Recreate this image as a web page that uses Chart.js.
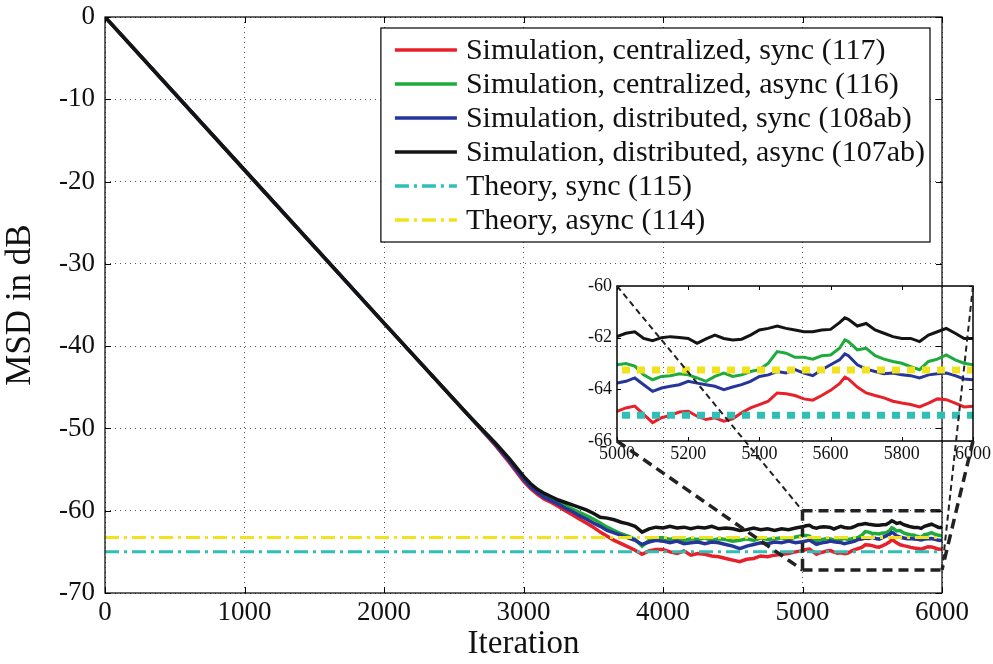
<!DOCTYPE html>
<html>
<head>
<meta charset="utf-8">
<script src="https://cdn.jsdelivr.net/npm/chart.js@4.4.1/dist/chart.umd.min.js"></script>
<style>
  html, body { margin: 0; padding: 0; background: #fff; }
  #wrap { position: relative; width: 993px; height: 664px; }
  canvas { position: absolute; left: 0; top: 0; }
</style>
</head>
<body>
<div id="wrap">
  <canvas id="mainChart" width="993" height="664"></canvas>
  <canvas id="insetChart" width="993" height="664"></canvas>
</div>
<script>
// Iteration index of each sample
const iterations = [0, 1000, 2000, 2600, 2800, 2900,
  3000, 3050, 3100, 3150, 3200, 3250, 3300, 3350, 3400, 3450,
  3500, 3550, 3600, 3650, 3700, 3750, 3800, 3850, 3900, 3950,
  4000, 4050, 4100, 4150, 4200, 4250, 4300, 4350, 4400, 4450,
  4500, 4550, 4600, 4650, 4700, 4750, 4800, 4850, 4900, 4950,
  5000, 5025, 5050, 5075, 5100, 5125, 5150, 5175, 5200, 5225,
  5250, 5275, 5300, 5325, 5350, 5375, 5400, 5425, 5450, 5475,
  5500, 5525, 5550, 5575, 5600, 5625, 5640, 5650, 5675, 5700,
  5725, 5750, 5775, 5800, 5825, 5850, 5875, 5900, 5925, 5950,
  5975, 6000];

// MSD in dB
const centralSync = [0, -18.6, -37.2, -48.3, -52.1, -54.2,
  -56.4, -57.3, -58.0, -58.6, -59.0, -59.5, -60.0, -60.5, -61.0, -61.5,
  -62.0, -62.6, -63.1, -63.6, -64.0, -64.4, -64.8, -65.3, -64.9, -64.7,
  -64.7, -65.0, -65.2, -64.9, -65.4, -65.2, -65.3, -65.5, -65.6, -65.8,
  -66.0, -66.2, -65.9, -65.8, -65.5, -65.6, -65.4, -65.3, -65.2, -65.0,
  -64.85, -64.72, -64.65, -64.97, -65.29, -65.1, -65.01, -64.88, -64.85, -65.04,
  -65.17, -65.1, -65.23, -65.14, -64.91, -64.72, -64.59, -64.46, -64.14, -64.17,
  -64.24, -64.37, -64.42, -64.24, -64.04, -63.78, -63.53, -63.6, -63.91, -64.14,
  -64.24, -64.33, -64.46, -64.53, -64.59, -64.68, -64.53, -64.37, -64.4, -64.53,
  -64.68, -64.65];

const centralAsync = [0, -18.6, -37.2, -48.3, -51.9, -53.9,
  -56.1, -56.9, -57.6, -58.2, -58.6, -59.0, -59.4, -59.8, -60.2, -60.6,
  -61.0, -61.5, -62.0, -62.4, -62.8, -63.1, -63.5, -64.3, -63.6, -63.3,
  -63.3, -63.5, -63.3, -63.6, -63.4, -63.5, -63.3, -63.6, -63.4, -63.5,
  -63.7, -63.6, -63.4, -63.6, -63.3, -63.5, -63.4, -63.3, -63.5, -63.2,
  -63.05, -63.0, -63.1, -63.44, -63.63, -63.5, -63.47, -63.4, -63.44, -63.56,
  -63.69, -63.5, -63.37, -63.5, -63.44, -63.31, -63.24, -62.99, -62.54, -62.6,
  -62.76, -62.76, -62.83, -62.7, -62.67, -62.41, -62.09, -62.15, -62.47, -62.41,
  -62.7, -62.83, -62.92, -62.99, -63.12, -63.24, -62.92, -62.83, -62.67, -62.86,
  -62.99, -63.05];

const distSync = [0, -18.6, -37.2, -48.3, -52.0, -54.0,
  -56.2, -57.1, -57.8, -58.4, -58.8, -59.2, -59.7, -60.1, -60.6, -61.0,
  -61.5, -61.9, -62.4, -62.7, -63.0, -63.3, -63.6, -64.1, -63.8, -63.6,
  -63.7, -63.9, -63.7, -64.0, -63.9, -63.8, -64.0, -63.8, -63.9, -64.1,
  -64.3, -64.6, -64.3, -64.1, -63.9, -64.0, -63.8, -63.9, -63.7, -63.9,
  -63.76, -63.69, -63.56, -63.82, -64.08, -63.95, -63.88, -63.82, -63.69, -63.76,
  -63.82, -63.88, -64.01, -63.91, -63.82, -63.69, -63.5, -63.44, -63.31, -63.37,
  -63.24, -63.37, -63.47, -63.24, -63.05, -62.86, -62.63, -62.7, -63.05, -63.22,
  -63.31, -63.4, -63.37, -63.44, -63.47, -63.56, -63.44, -63.4, -63.37, -63.47,
  -63.6, -63.63];

const distAsync = [0, -18.6, -37.2, -48.3, -51.8, -53.7,
  -55.8, -56.7, -57.4, -57.9, -58.3, -58.7, -59.0, -59.3, -59.6, -59.9,
  -60.3, -60.8, -60.9, -61.1, -61.4, -61.6, -61.9, -62.6, -62.2, -62.0,
  -62.1, -61.9, -62.1, -62.0, -62.2, -62.0, -62.1, -61.9, -62.2, -62.1,
  -62.2, -62.4, -62.3, -62.1, -62.3, -62.2, -62.4, -62.2, -62.3, -62.1,
  -61.96, -61.83, -61.77, -62.03, -62.12, -62.0, -61.96, -61.99, -62.03, -62.22,
  -62.05, -61.9, -62.03, -62.09, -62.06, -61.9, -61.7, -61.64, -61.55, -61.64,
  -61.7, -61.77, -61.77, -61.7, -61.68, -61.42, -61.23, -61.29, -61.55, -61.45,
  -61.7, -61.83, -61.96, -62.03, -62.03, -62.15, -61.9, -61.77, -61.64, -61.83,
  -62.03, -62.03];

// Theoretical steady-state levels
const theoryIters = [0, 6000];
const theorySync = [-65.0, -65.0];
const theoryAsync = [-63.25, -63.25];

// Zoomed region shown in the inset
const zoomX = [5000, 6000];
const zoomY = [-60, -67.2];
const insetY = [-66, -60];

const labels = [
  'Simulation, centralized, sync (117)',
  'Simulation, centralized, async (116)',
  'Simulation, distributed, sync (108ab)',
  'Simulation, distributed, async (107ab)',
  'Theory, sync (115)',
  'Theory, async (114)'
];
const colors = ['#e8202a', '#1faa3c', '#26359a', '#141414', '#2fbfb5', '#f2e21e'];

const serif = '"Liberation Serif", "Times New Roman", serif';

function pts(xs, ys) {
  return xs.map((x, i) => ({ x: x, y: ys[i] }));
}

function makeDatasets(lw, theoryDash, theoryWidth) {
  const sims = [centralSync, centralAsync, distSync, distAsync];
  const ds = sims.map((s, i) => ({
    label: labels[i],
    data: pts(iterations, s),
    borderColor: colors[i],
    borderWidth: lw,
    pointRadius: 0,
    fill: false,
    order: 4 - i
  }));
  ds.push({ label: labels[4], data: pts(theoryIters, theorySync), borderColor: colors[4],
    borderWidth: theoryWidth, borderDash: theoryDash, pointRadius: 0, order: 0 });
  ds.push({ label: labels[5], data: pts(theoryIters, theoryAsync), borderColor: colors[5],
    borderWidth: theoryWidth, borderDash: theoryDash, pointRadius: 0, order: 0 });
  return ds;
}

// no thousands separator on tick labels
const plainTick = v => String(v);

// Frame box and inward ticks, matlab style
function drawFrame(chart, tickLen, lw) {
  const { ctx, chartArea: a, scales } = chart;
  ctx.save();
  ctx.strokeStyle = '#000';
  ctx.lineWidth = lw;
  ctx.setLineDash([]);
  ctx.strokeRect(a.left, a.top, a.right - a.left, a.bottom - a.top);
  ctx.lineWidth = 1;
  ctx.beginPath();
  scales.x.ticks.forEach(t => {
    const px = Math.round(scales.x.getPixelForValue(t.value)) + 0.5;
    ctx.moveTo(px, a.bottom); ctx.lineTo(px, a.bottom - tickLen);
    ctx.moveTo(px, a.top); ctx.lineTo(px, a.top + tickLen);
  });
  scales.y.ticks.forEach(t => {
    const py = Math.round(scales.y.getPixelForValue(t.value)) + 0.5;
    ctx.moveTo(a.left, py); ctx.lineTo(a.left + tickLen, py);
    ctx.moveTo(a.right, py); ctx.lineTo(a.right - tickLen, py);
  });
  ctx.stroke();
  ctx.restore();
}

const mainPlugin = {
  id: 'mainDecor',
  afterDatasetsDraw(chart) {
    const { ctx, scales } = chart;
    const x0 = scales.x.getPixelForValue(zoomX[0]);
    const x1 = scales.x.getPixelForValue(zoomX[1]);
    const y0 = scales.y.getPixelForValue(zoomY[0]);
    const y1 = scales.y.getPixelForValue(zoomY[1]);
    ctx.save();
    ctx.strokeStyle = '#222';
    ctx.lineWidth = 3.5;
    ctx.setLineDash([10, 6]);
    ctx.beginPath();
    ctx.moveTo(x0, y0); ctx.lineTo(x1, y0);
    ctx.moveTo(x0, y1); ctx.lineTo(x1, y1);
    ctx.moveTo(x0, y0); ctx.lineTo(x0, y1);
    ctx.stroke();
    ctx.restore();
  },
  afterDraw(chart) {
    drawFrame(chart, 6, 1.2);
    // legend
    const { ctx, chartArea: a } = chart;
    ctx.save();
    ctx.font = '30px ' + serif;
    let maxW = 0;
    labels.forEach(l => { maxW = Math.max(maxW, ctx.measureText(l).width); });
    const rowH = 34;
    const boxW = 85 + maxW + 5;
    const boxH = rowH * labels.length + 10;
    const bx = a.right - 12 - boxW;
    const by = a.top + 11;
    ctx.fillStyle = '#fff';
    ctx.fillRect(bx, by, boxW, boxH);
    ctx.strokeStyle = '#000';
    ctx.lineWidth = 1.2;
    ctx.strokeRect(bx, by, boxW, boxH);
    ctx.textBaseline = 'middle';
    labels.forEach((l, i) => {
      const cy = by + 22 + i * rowH;
      ctx.strokeStyle = colors[i];
      ctx.lineWidth = 3.5;
      ctx.setLineDash(i >= 4 ? [14, 5, 3, 5] : []);
      ctx.beginPath();
      ctx.moveTo(bx + 14, cy); ctx.lineTo(bx + 76, cy);
      ctx.stroke();
      ctx.fillStyle = '#111';
      ctx.fillText(l, bx + 85, cy + 1);
    });
    ctx.restore();
  }
};

const mainChart = new Chart(document.getElementById('mainChart'), {
  type: 'line',
  data: { datasets: makeDatasets(3.5, [14, 5, 3, 5], 3) },
  options: {
    responsive: false,
    animation: false,
    layout: { padding: { left: 0, top: 17, right: 51, bottom: 0 } },
    plugins: { legend: { display: false }, tooltip: { enabled: false } },
    scales: {
      x: {
        type: 'linear', min: 0, max: 6000,
        ticks: { stepSize: 1000, color: '#111', font: { family: serif, size: 27 }, padding: 4, maxRotation: 0, callback: plainTick },
        grid: { color: '#555', lineWidth: 1, drawTicks: false },
        border: { display: false, dash: [1, 4] },
        title: { display: true, text: 'Iteration', color: '#111', font: { family: serif, size: 33 }, padding: { top: 0, bottom: 0 } },
        afterFit: s => { s.height = 71; s.paddingLeft = 0; s.paddingRight = 0; }
      },
      y: {
        min: -70, max: 0,
        ticks: { stepSize: 10, color: '#111', font: { family: serif, size: 27 }, padding: 10, callback: plainTick },
        grid: { color: '#555', lineWidth: 1, drawTicks: false },
        border: { display: false, dash: [1, 4] },
        title: { display: true, text: 'MSD in dB', color: '#111', font: { family: serif, size: 35 }, padding: { top: 0, bottom: 3 } },
        afterFit: s => { s.width = 105; s.paddingTop = 0; s.paddingBottom = 0; }
      }
    }
  },
  plugins: [mainPlugin]
});

const insetPlugin = {
  id: 'insetDecor',
  afterDraw(chart) {
    drawFrame(chart, 4, 1.5);
    // connector lines from the inset corners to the zoom box on the main chart
    const { ctx, chartArea: a } = chart;
    const ms = mainChart.scales;
    const rx0 = ms.x.getPixelForValue(zoomX[0]);
    const rx1 = ms.x.getPixelForValue(zoomX[1]);
    const ry0 = ms.y.getPixelForValue(zoomY[0]);
    const ry1 = ms.y.getPixelForValue(zoomY[1]);
    ctx.save();
    ctx.strokeStyle = '#222';
    ctx.lineWidth = 2;
    ctx.setLineDash([6, 4]);
    ctx.beginPath();
    ctx.moveTo(a.left, a.top); ctx.lineTo(rx0, ry0);
    ctx.moveTo(a.right, a.top); ctx.lineTo(rx1, ry1);
    ctx.stroke();
    ctx.lineWidth = 3.5;
    ctx.setLineDash([10, 6]);
    ctx.beginPath();
    ctx.moveTo(a.left, a.bottom); ctx.lineTo(rx0, ry1);
    ctx.moveTo(a.right, a.bottom); ctx.lineTo(rx1, ry1);
    ctx.stroke();
    ctx.restore();
  }
};

new Chart(document.getElementById('insetChart'), {
  type: 'line',
  data: { datasets: makeDatasets(3, [8, 7], 7) },
  options: {
    responsive: false,
    animation: false,
    layout: { padding: { left: 577, top: 286, right: 20, bottom: 198 } },
    plugins: { legend: { display: false }, tooltip: { enabled: false } },
    scales: {
      x: {
        type: 'linear', min: zoomX[0], max: zoomX[1],
        ticks: { stepSize: 200, color: '#111', font: { family: serif, size: 18 }, padding: 2, maxRotation: 0, callback: plainTick },
        grid: { display: false, drawTicks: false },
        border: { display: false },
        afterFit: s => { s.height = 25; s.paddingLeft = 0; s.paddingRight = 0; }
      },
      y: {
        min: insetY[0], max: insetY[1],
        ticks: { stepSize: 2, color: '#111', font: { family: serif, size: 18 }, padding: 5, callback: plainTick },
        grid: { display: false, drawTicks: false },
        border: { display: false },
        afterFit: s => { s.width = 40; s.paddingTop = 0; s.paddingBottom = 0; }
      }
    }
  },
  plugins: [insetPlugin]
});
</script>
</body>
</html>
